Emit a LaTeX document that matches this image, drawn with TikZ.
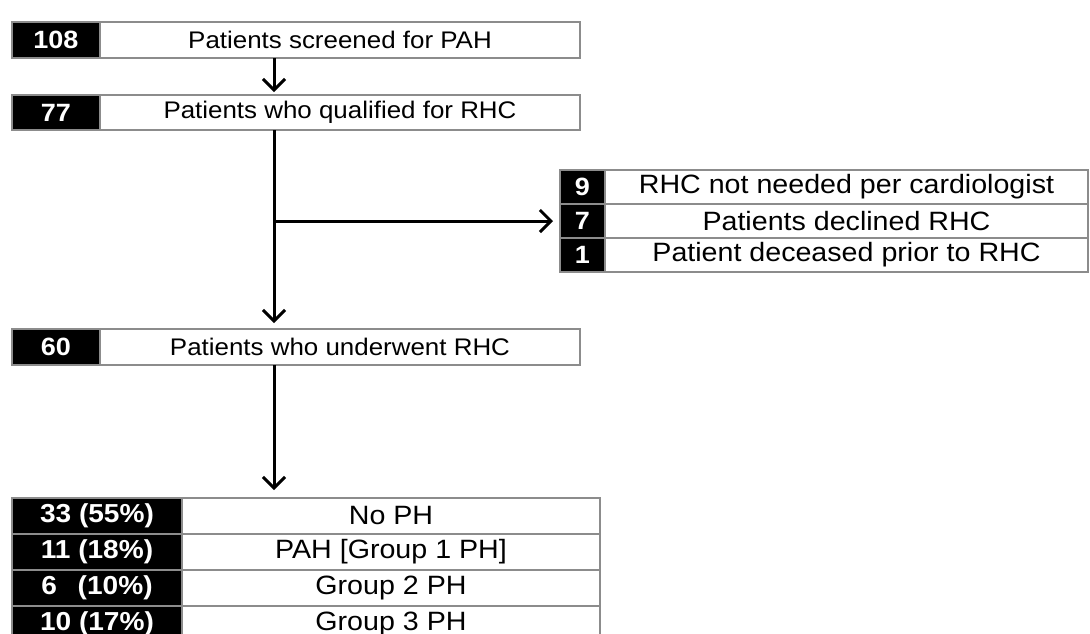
\documentclass[tikz,border=0pt]{standalone}
\usepackage{fontspec}
\setmainfont{Liberation Sans}[FakeStretch=1.08]
\usetikzlibrary{positioning,arrows.meta}

\begin{document}
\begin{tikzpicture}[
        x=1pt, y=-1pt,
        box/.style={draw=black!45, line width=1.3pt, outer sep=0pt, inner sep=0pt},
        numbox/.style={box, fill=black, text=white, font=\bfseries\fontsize{25}{27}\selectfont},
        txtbox/.style={box, fill=white, font=\fontsize{24}{26}\selectfont},
        sidenum/.style={numbox, minimum width=45, minimum height=34, font=\bfseries\fontsize{25}{27}\selectfont},
        sidetxt/.style={txtbox, minimum width=483, minimum height=34, font=\fontsize{26.5}{28}\selectfont},
        outnum/.style={numbox, minimum width=170, minimum height=36, font=\bfseries\fontsize{26}{28}\selectfont},
        outtxt/.style={txtbox, minimum width=418, minimum height=36, font=\fontsize{26.5}{28}\selectfont},
        link/.style={line width=3pt, -{Straight Barb[length=11pt,width=22pt]}}
    ]
    \useasboundingbox (0,0) rectangle (1090,633);
    \coordinate (spine) at (274,0);

    % main stages
    \node[numbox, minimum width=88, minimum height=36, anchor=north west] (n108) at (12,22) {108};
    \node[txtbox, minimum width=480, minimum height=36, right=0pt of n108] (t108) {Patients screened for PAH};
    \node[numbox, minimum width=88, minimum height=35, anchor=north west] (n77) at (12,95) {77};
    \node[txtbox, minimum width=480, minimum height=35, right=0pt of n77] (t77) {Patients who qualified for RHC};
    \node[numbox, minimum width=88, minimum height=36, anchor=north west] (n60) at (12,329) {60};
    \node[txtbox, minimum width=480, minimum height=36, right=0pt of n60] (t60) {Patients who underwent RHC};

    % excluded before RHC
    \node[sidenum, anchor=north west] (n9) at (560,170) {9};
    \node[sidetxt, right=0pt of n9] (t9) {RHC not needed per cardiologist};
    \node[sidenum, below=0pt of n9] (n7) {7};
    \node[sidetxt, right=0pt of n7] (t7) {Patients declined RHC};
    \node[sidenum, below=0pt of n7] (n1) {1};
    \node[sidetxt, right=0pt of n1] (t1) {Patient deceased prior to RHC};

    % RHC outcome
    \node[outnum, anchor=north west] (o33) at (12,498) {33 (55\%)};
    \node[outtxt, right=0pt of o33] (noph) {No PH};
    \node[outnum, below=0pt of o33] (o11) {11 (18\%)};
    \node[outtxt, right=0pt of o11] (pah) {PAH [Group 1 PH]};
    \node[outnum, below=0pt of o11] (o6) {6\hspace{0.8em}(10\%)};
    \node[outtxt, right=0pt of o6] (grp2) {Group 2 PH};
    \node[outnum, below=0pt of o6] (o10) {10 (17\%)};
    \node[outtxt, right=0pt of o10] (grp3) {Group 3 PH};

    \draw[link, shorten >=3pt] (t108.south -| spine) -- (t77.north -| spine);
    \draw[link, shorten >=6pt] (t77.south -| spine) -- (t60.north -| spine);
    \draw[link, shorten >=7pt] (spine |- n7) -- (n7.west);
    \draw[link, shorten >=8pt] (t60.south -| spine) -- (noph.north -| spine);
\end{tikzpicture}
\end{document}
